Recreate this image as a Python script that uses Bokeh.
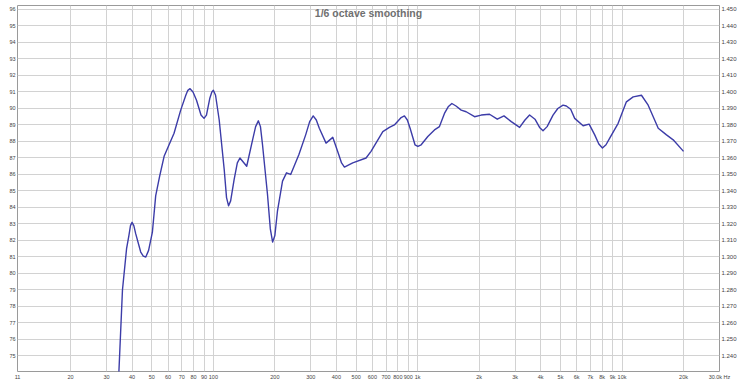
from bokeh.plotting import figure
from bokeh.models import (Range1d, LinearAxis, FixedTicker, NumeralTickFormatter,
                          Label, ColumnDataSource)
from bokeh.embed import file_html
from bokeh.resources import INLINE

# ---- data ----
freq_hz = [33.6, 34.5, 35.9, 37.6, 38.6, 39.3, 40.0, 40.8, 41.7, 44.1, 45.4, 46.7, 48.2,
           50.3, 52.2, 54.6, 57.4, 64.2, 69.2, 73.3, 75.0, 76.9, 79.5, 82.7, 87.0, 90.0,
           92.5, 96.0, 98.3, 100.0, 102.5, 106.8, 113.0, 116.0, 118.7, 121.5, 126.4,
           131.0, 134.9, 139.0, 145.6, 155.6, 161.0, 166.0, 170.0, 174.0, 184.0, 190.0,
           195.0, 200.0, 206.0, 218.0, 228.0, 239.0, 262.0, 283.0, 296.0, 308.0, 319.0,
           330.0, 356.0, 384.0, 411.0, 424.0, 438.0, 455.0, 481.0, 559.0, 591.0, 675.0,
           727.0, 769.0, 830.0, 861.0, 890.0, 918.0, 970.0, 1002.0, 1040.0, 1121.0,
           1208.0, 1278.0, 1352.0, 1410.0, 1470.0, 1540.0, 1633.0, 1727.0, 1898.0,
           2047.0, 2247.0, 2452.0, 2644.0, 2871.0, 3154.0, 3350.0, 3529.0, 3750.0,
           3950.0, 4106.0, 4300.0, 4596.0, 4850.0, 5146.0, 5339.0, 5608.0, 5866.0,
           6450.0, 6904.0, 7352.0, 7700.0, 8021.0, 8350.0, 8707.0, 9574.0, 10506.0,
           11340.0, 12450.0, 13430.0, 15040.0, 16510.0, 17800.0, 20000.0]
level_db = [71.9, 74.1, 79.0, 81.5, 82.3, 82.9, 83.1, 82.9, 82.4, 81.3, 81.05, 81.0, 81.4,
            82.5, 84.7, 85.9, 87.1, 88.5, 89.9, 90.8, 91.1, 91.2, 91.0, 90.5, 89.6, 89.4,
            89.6, 90.6, 91.0, 91.1, 90.8, 89.3, 86.3, 84.6, 84.1, 84.4, 85.7,
            86.7, 87.0, 86.8, 86.5, 88.1, 88.9, 89.25, 88.9, 87.8, 84.8, 82.7,
            81.9, 82.3, 83.8, 85.6, 86.1, 86.0, 87.2, 88.4, 89.2, 89.55, 89.3,
            88.8, 87.9, 88.25, 87.2, 86.7, 86.45, 86.55, 86.7, 87.0, 87.4, 88.6,
            88.85, 89.0, 89.45, 89.55, 89.3, 88.8, 87.8, 87.7, 87.8, 88.3,
            88.7, 88.9, 89.7, 90.1, 90.3, 90.15, 89.9, 89.8, 89.5,
            89.6, 89.65, 89.35, 89.55, 89.2, 88.85, 89.3, 89.6, 89.35,
            88.85, 88.65, 88.9, 89.6, 90.0, 90.2, 90.15, 89.95, 89.4,
            88.95, 89.05, 88.4, 87.85, 87.6, 87.8, 88.2, 89.1, 90.4,
            90.7, 90.8, 90.2, 88.8, 88.4, 88.1, 87.4]

x_ticks = [11, 20, 30, 40, 50, 60, 70, 80, 90, 100, 200, 300, 400, 500, 600, 700, 800,
           900, 1000, 2000, 3000, 4000, 5000, 6000, 7000, 8000, 9000, 10000, 20000, 30000]
x_tick_labels = ["11", "20", "30", "40", "50", "60", "70", "80", "90", "100", "200", "300",
                 "400", "500", "600", "700", "800", "900", "1k", "2k", "3k", "4k", "5k",
                 "6k", "7k", "8k", "9k", "10k", "20k", "30.0k Hz"]
db_ticks = list(range(75, 97))
deg_ticks = [round(1.24 + 0.01 * i, 2) for i in range(22)]

title_text = "1/6 octave smoothing"
left_unit = "dB"
right_unit = "deg"

FONT = "Liberation Sans"
GRID = "#d2d2d2"
LABEL_COLOR = "#444444"

p = figure(width=740, height=382, x_axis_type="log",
           x_range=Range1d(11, 30000), y_range=Range1d(74.06, 96.24),
           output_backend="svg", toolbar_location=None,
           min_border_left=17, min_border_right=21, min_border_top=5, min_border_bottom=9)
p.background_fill_color = "white"
p.border_fill_color = "white"
p.outline_line_color = "#9a9a9a"
p.outline_line_width = 1

p.extra_y_ranges = {"deg": Range1d(1.2306, 1.4524)}

xa = p.xaxis[0]
xa.ticker = FixedTicker(ticks=x_ticks, minor_ticks=[])
xa.major_label_overrides = {t: l for t, l in zip(x_ticks, x_tick_labels)}
ya = p.yaxis[0]
ya.ticker = FixedTicker(ticks=db_ticks, minor_ticks=[])

ra = LinearAxis(y_range_name="deg", ticker=FixedTicker(ticks=deg_ticks, minor_ticks=[]),
                formatter=NumeralTickFormatter(format="0.000"))
p.add_layout(ra, "right")

for ax in [xa, ya, ra]:
    ax.axis_line_color = None
    ax.major_tick_line_color = None
    ax.minor_tick_line_color = None
    ax.major_tick_out = 0
    ax.major_tick_in = 0
    ax.major_label_standoff = 2
    ax.major_label_text_font = FONT
    ax.major_label_text_color = LABEL_COLOR
xa.major_label_text_font_size = "5.5px"
ya.major_label_text_font_size = "5.5px"
ra.major_label_text_font_size = "6px"
xa.major_label_standoff = 2

p.xgrid.grid_line_color = GRID
p.ygrid.grid_line_color = GRID
p.xgrid.grid_line_width = 1
p.ygrid.grid_line_width = 1

src = ColumnDataSource(dict(f=freq_hz, db=level_db))
p.line("f", "db", source=src, line_color="#3c3ca8", line_width=1.4, line_join="round")

p.add_layout(Label(x=574.5, y=95.8, text=title_text, text_align="center",
                   text_baseline="middle", text_font_size="10.5px", text_font_style="bold",
                   text_color="#707070", text_font=FONT))
# unit labels at the very top of the canvas (screen units from the frame's lower-left corner)
p.add_layout(Label(x=-4, y=372.5, x_units="screen", y_units="screen", text=left_unit,
                   text_align="right", text_baseline="top", text_font_size="5px",
                   text_font=FONT, text_color=LABEL_COLOR))
p.add_layout(Label(x=705, y=372.5, x_units="screen", y_units="screen", text=right_unit,
                   text_align="left", text_baseline="top", text_font_size="5px",
                   text_font=FONT, text_color=LABEL_COLOR))

open("out.html", "w").write(file_html(p, INLINE))
